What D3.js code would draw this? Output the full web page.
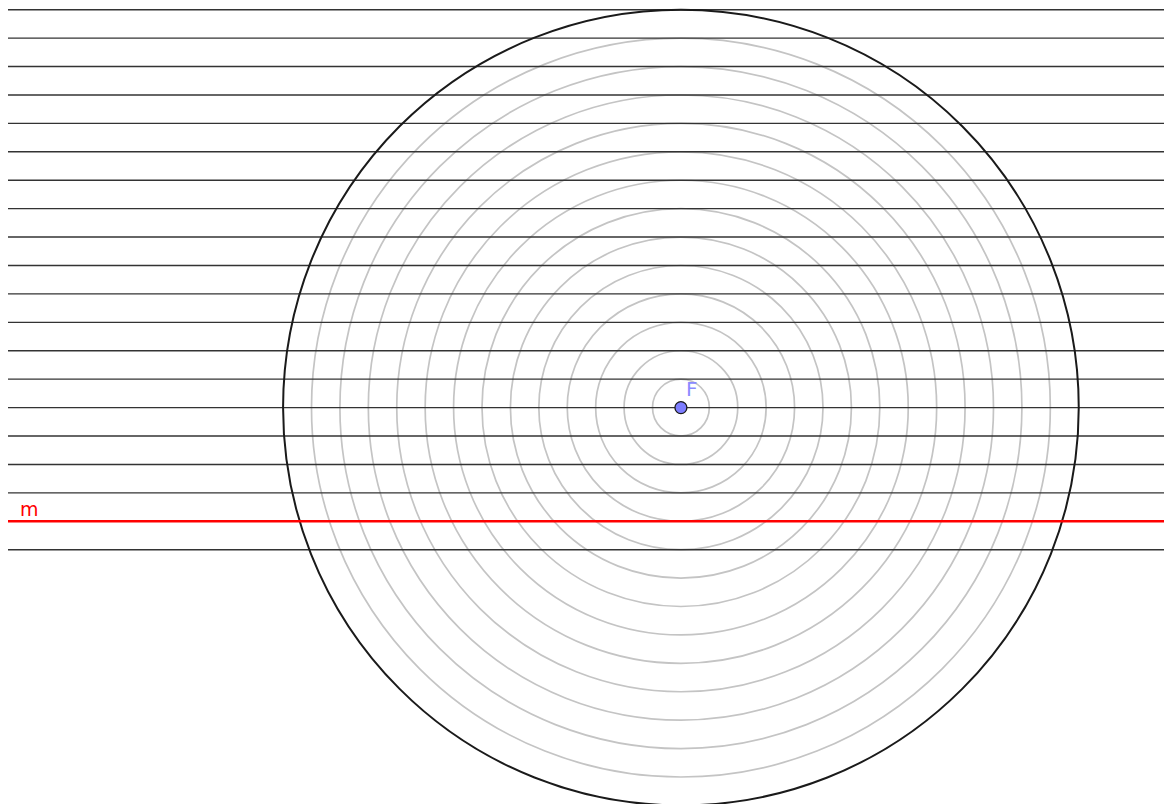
<!DOCTYPE html>
<html>
<head>
<meta charset="utf-8">
<script src="https://cdn.jsdelivr.net/npm/d3@7"></script>
<style>
html,body{margin:0;padding:0;background:#fff;}
svg{display:block;}
</style>
</head>
<body>
<svg id="chart" width="1164" height="804"></svg>
<script>
// Data (math units)
const lineLevels = [14, 13, 12, 11, 10, 9, 8, 7, 6, 5, 4, 3, 2, 1, 0, -1, -2, -3, -5];
const directrixLevel = -4;
const directrixLabel = "m";
const circleRadii = [1, 2, 3, 4, 5, 6, 7, 8, 9, 10, 11, 12, 13];
const outerRadius = 14;
const focusPoint = [0, 0];
const focusLabel = "F";
const xDomain = [-23.68, 17.0];
const yDomain = [-5, 14];

const svg = d3.select("#chart");
const x = d3.scaleLinear().domain(xDomain).range([8, 1164]);
const y = d3.scaleLinear().domain(yDomain).range([549.7, 9.7]);
const unit = x(1) - x(0);

// grey concentric circles
svg.append("g").selectAll("circle").data(circleRadii).join("circle")
  .attr("cx", x(focusPoint[0])).attr("cy", y(focusPoint[1]))
  .attr("r", d => d * unit)
  .attr("fill", "none").attr("stroke", "#c4c4c4").attr("stroke-width", 1.7);

// horizontal lines
svg.append("g").selectAll("line").data(lineLevels).join("line")
  .attr("x1", x(xDomain[0])).attr("x2", x(xDomain[1]))
  .attr("y1", d => y(d)).attr("y2", d => y(d))
  .attr("stroke", "#333").attr("stroke-width", 1.4);

// outer circle
svg.append("circle")
  .attr("cx", x(focusPoint[0])).attr("cy", y(focusPoint[1]))
  .attr("r", outerRadius * unit)
  .attr("fill", "none").attr("stroke", "#1a1a1a").attr("stroke-width", 2);

// directrix
svg.append("line")
  .attr("x1", x(xDomain[0])).attr("x2", x(xDomain[1]))
  .attr("y1", y(directrixLevel)).attr("y2", y(directrixLevel))
  .attr("stroke", "#ff0000").attr("stroke-width", 2.5);
svg.append("text")
  .attr("x", x(xDomain[0]) + 12).attr("y", y(directrixLevel) - 5)
  .attr("fill", "#ff0000").attr("font-family", "DejaVu Sans, sans-serif")
  .attr("font-size", 19).text(directrixLabel);

// focus
svg.append("circle")
  .attr("cx", x(focusPoint[0])).attr("cy", y(focusPoint[1])).attr("r", 6)
  .attr("fill", "#7d7dff").attr("stroke", "#1a1a1a").attr("stroke-width", 1.3);
svg.append("text")
  .attr("x", x(focusPoint[0]) + 5).attr("y", y(focusPoint[1]) - 12)
  .attr("fill", "#8a8aff").attr("font-family", "DejaVu Sans, sans-serif")
  .attr("font-size", 20).text(focusLabel);
</script>
</body>
</html>
